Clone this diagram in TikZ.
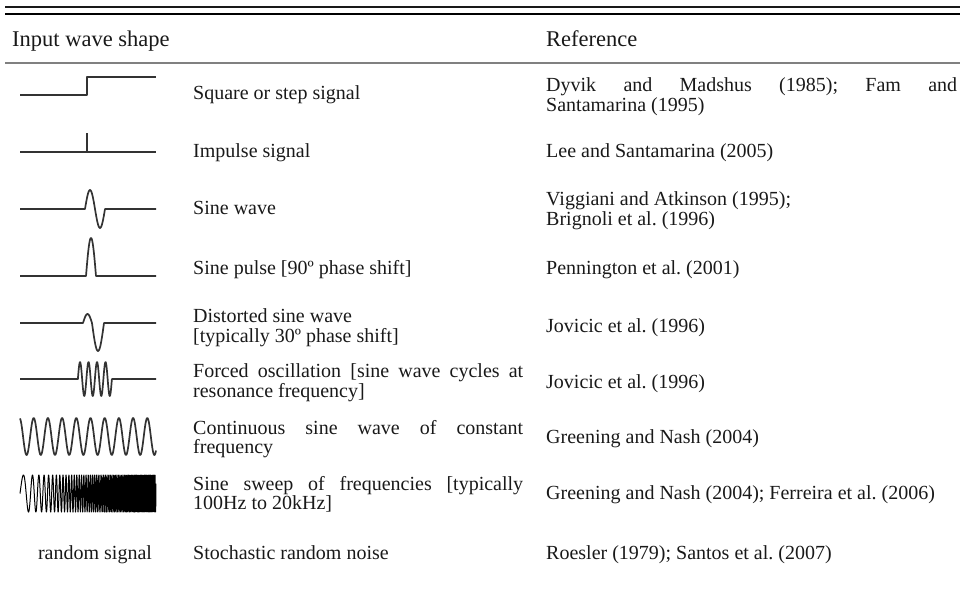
\documentclass[tikz,border=0pt]{standalone}
\usepackage{fontspec}
\setmainfont{Liberation Serif}
\definecolor{ink}{gray}{0.1}
\definecolor{wavec}{gray}{0.2}
\definecolor{rulegray}{gray}{0.5}
\newcommand\jl[2]{\makebox[#1][s]{#2}}
\begin{document}
\frenchspacing
\begin{tikzpicture}[x=1pt,y=-1pt,
  txt/.style={anchor=base west, inner sep=0pt, text=ink, font=\fontsize{20}{20}\selectfont\frenchspacing},
  head/.style={txt, font=\fontsize{22.5}{22.5}\selectfont},
  wave/.style={draw=wavec, line width=1.7pt, line join=round},
  dense/.style={draw=black, line width=1.0pt, line join=round}]
\useasboundingbox (0,0) rectangle (960,600);

% rules
\draw[line width=1.3pt, draw=ink] (5,7) -- (960,7);
\draw[line width=2pt, draw=black] (5,14) -- (960,14);
\draw[line width=2.2pt, draw=rulegray] (5,63) -- (960,63);

% header
\node[head] (h1) at (12,46) {Input wave shape};
\node[head] (h2) at (546,46) {Reference};

% row 1
\draw[wave] (20,95) -- (87,95) -- (87,77) -- (156,77);
\node[txt] (d1) at (193,99) {Square or step signal};
\node[txt] (r1a) at (546,91) {\jl{411pt}{Dyvik and Madshus (1985); Fam and}};
\node[txt] (r1b) at (546,111) {Santamarina (1995)};

% row 2
\draw[wave] (20,152) -- (156,152);
\draw[wave] (87,152) -- (87,133);
\node[txt] (d2) at (193,157) {Impulse signal};
\node[txt] (r2) at (546,157) {Lee and Santamarina (2005)};

% row 3
\draw[wave] (20,209) -- (85,209) -- plot[domain=85:105,samples=41] (\x,{209-19*sin(18*(\x-85))}) -- (156,209);
\node[txt] (d3) at (193,214) {Sine wave};
\node[txt] (r3a) at (546,205) {Viggiani and Atkinson (1995);};
\node[txt] (r3b) at (546,225) {Brignoli et al. (1996)};

% row 4
\draw[wave] (20,276) -- (86,276) -- plot[domain=86:96,samples=31] (\x,{276-38*sin(18*(\x-86))}) -- (156,276);
\node[txt] (d4) at (193,274) {Sine pulse [90º phase shift]};
\node[txt] (r4) at (546,274) {Pennington et al. (2001)};

% row 5
\draw[wave] (20,323) -- (83,323) -- plot[domain=83:92,samples=21] (\x,{323-9*sin(20*(\x-83))})
  -- plot[domain=92:104,samples=31] (\x,{323+28*sin(15*(\x-92))}) -- (156,323);
\node[txt] (d5a) at (193,322) {Distorted sine wave};
\node[txt] (d5b) at (193,342) {[typically 30º phase shift]};
\node[txt] (r5) at (546,332) {Jovicic et al. (1996)};

% row 6
\draw[wave] (20,379) -- (77.9,379) -- plot[domain=77.9:111.9,samples=121] (\x,{379-17*sin(42.353*(\x-77.9))}) -- (156,379);
\node[txt] (d6a) at (193,377) {\jl{330pt}{Forced oscillation [sine wave cycles at}};
\node[txt] (d6b) at (193,397) {resonance frequency]};
\node[txt] (r6) at (546,388) {Jovicic et al. (1996)};

% row 7
\draw[wave] plot[domain=20:156,samples=300] (\x,{436.5-18.5*cos(25.352*(\x-19.5))});
\node[txt] (d7a) at (193,434) {\jl{330pt}{Continuous sine wave of constant}};
\node[txt] (d7b) at (193,453) {frequency};
\node[txt] (r7) at (546,443) {Greening and Nash (2004)};

% row 8
\draw[dense] plot[domain=0:136,samples=1800] ({20+\x},{493.5-18.5*sin(360*mod(\x/16+0.003*\x*\x,1))});
\node[txt] (d8a) at (193,490) {\jl{330pt}{Sine sweep of frequencies [typically}};
\node[txt] (d8b) at (193,509) {100Hz to 20kHz]};
\node[txt] (r8) at (546,499) {Greening and Nash (2004); Ferreira et al. (2006)};

% row 9
\node[txt, anchor=base] (w9) at (95,559) {random signal};
\node[txt] (d9) at (193,559) {Stochastic random noise};
\node[txt] (r9) at (546,559) {Roesler (1979); Santos et al. (2007)};
\end{tikzpicture}
\end{document}
